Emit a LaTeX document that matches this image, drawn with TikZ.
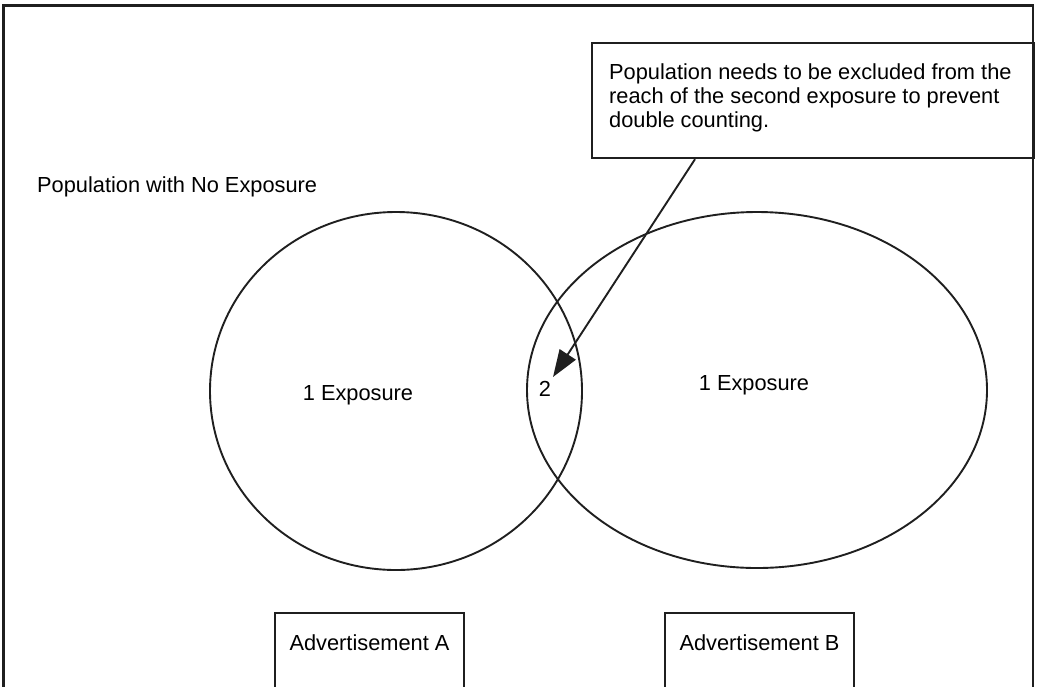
\documentclass[tikz,border=0pt]{standalone}
\usepackage{fontspec}
\setmainfont{Liberation Sans}
\usetikzlibrary{shapes.geometric,arrows.meta}
\begin{document}
\begin{tikzpicture}[x=1pt,y=-1pt,
  ln/.style={line width=1.9pt,draw=black!88},
  lbl/.style={font=\fontsize{21.8}{24}\selectfont,inner sep=0pt},
  setshape/.style={ln,ellipse,inner sep=0pt}]
\useasboundingbox (0,0) rectangle (1038,686);

% outer frame, open at the bottom
\draw[ln,line width=2.4pt] (3.5,700) -- (3.5,5.5) -- (1033,5.5) -- (1033,700);

% callout box
\node[ln,line width=2.2pt,rectangle,minimum width=442pt,minimum height=115pt,
      anchor=north west,inner sep=0pt] (note) at (591,42) {};
\node[lbl,anchor=north west,align=left] (notetext) at (609,63)
  {Population needs to be excluded from the\\reach of the second exposure to prevent\\double counting.};

% outer label
\node[lbl,anchor=west] (none) at (37,187) {Population with No Exposure};

% the two exposure sets
\node[setshape,minimum width=372pt,minimum height=358pt] (setA) at (396,391) {};
\node[setshape,minimum width=460pt,minimum height=356pt] (setB) at (757,390) {};

\node[lbl] (oneA) at (358,395) {1 Exposure};
\node[lbl] (oneB) at (754,385) {1 Exposure};
\node[lbl] (two) at (545,389) {2};

% pointer from the note to the overlap
\coordinate (tip) at (553,377);
\draw[ln,-{Triangle[length=27pt,width=19pt]}] (note.south west) ++(104,0) -- (tip);

% advertisement boxes, open at the bottom
\draw[ln,line width=2.2pt] (275,700) -- (275,613) -- (464,613) -- (464,700);
\draw[ln,line width=2.2pt] (665,700) -- (665,613) -- (854,613) -- (854,700);
\node[lbl] (adA) at (369.5,643) {Advertisement A};
\node[lbl] (adB) at (759.5,643) {Advertisement B};
\end{tikzpicture}
\end{document}
